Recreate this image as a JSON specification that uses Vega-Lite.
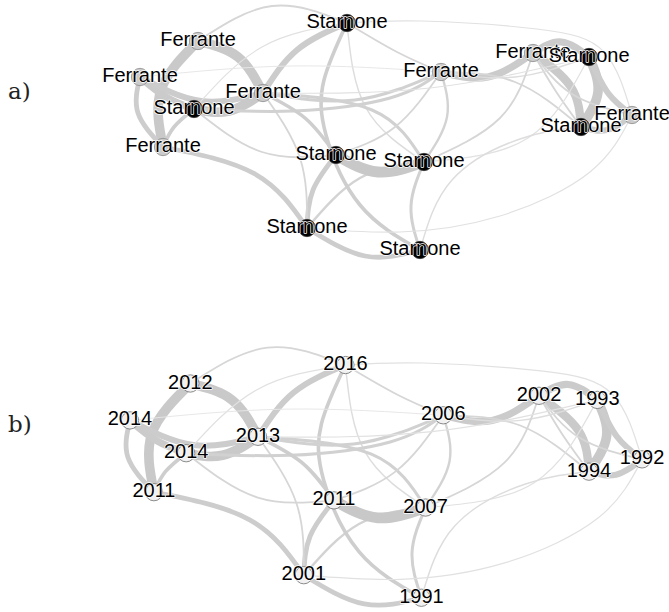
{
"$schema": "https://vega.github.io/schema/vega-lite/v6.json",
"padding": 0,
"bounds": "flush",
"spacing": 10,
"config": {"view": {"stroke": null}},
"resolve": {"scale": {"x": "independent", "y": "independent"}},
"datasets": {
"edges": [
{"e":1,"o":0,"x":198,"y":41,"w":8},{"e":1,"o":1,"x":238,"y":57,"w":8},{"e":1,"o":2,"x":263,"y":93,"w":8},
{"e":2,"o":0,"x":198,"y":41,"w":8},{"e":2,"o":1,"x":161,"y":90,"w":8},{"e":2,"o":2,"x":163,"y":147,"w":8},
{"e":3,"o":0,"x":140,"y":77,"w":6},{"e":3,"o":1,"x":166,"y":97,"w":6},{"e":3,"o":2,"x":194,"y":109,"w":6},
{"e":4,"o":0,"x":140,"y":77,"w":5},{"e":4,"o":1,"x":201,"y":101,"w":5},{"e":4,"o":2,"x":263,"y":93,"w":5},
{"e":5,"o":0,"x":194,"y":109,"w":8},{"e":5,"o":1,"x":229,"y":111,"w":8},{"e":5,"o":2,"x":263,"y":93,"w":8},
{"e":6,"o":0,"x":263,"y":93,"w":5},{"e":6,"o":1,"x":297,"y":50,"w":5},{"e":6,"o":2,"x":347,"y":23,"w":5},
{"e":7,"o":0,"x":198,"y":41,"w":1.5},{"e":7,"o":1,"x":272,"y":6,"w":1.5},{"e":7,"o":2,"x":347,"y":23,"w":1.5},
{"e":8,"o":0,"x":140,"y":77,"w":4},{"e":8,"o":1,"x":138,"y":113,"w":4},{"e":8,"o":2,"x":163,"y":147,"w":4},
{"e":9,"o":0,"x":194,"y":109,"w":3},{"e":9,"o":1,"x":174,"y":127,"w":3},{"e":9,"o":2,"x":163,"y":147,"w":3},
{"e":10,"o":0,"x":194,"y":109,"w":1.5},{"e":10,"o":1,"x":262,"y":152,"w":1.5},{"e":10,"o":2,"x":336,"y":155,"w":1.5},
{"e":11,"o":0,"x":163,"y":147,"w":4},{"e":11,"o":1,"x":255,"y":174,"w":4},{"e":11,"o":2,"x":307,"y":228,"w":4},
{"e":12,"o":0,"x":307,"y":228,"w":4},{"e":12,"o":1,"x":313,"y":190,"w":4},{"e":12,"o":2,"x":336,"y":155,"w":4},
{"e":13,"o":0,"x":263,"y":93,"w":1.5},{"e":13,"o":1,"x":300,"y":158,"w":1.5},{"e":13,"o":2,"x":307,"y":228,"w":1.5},
{"e":14,"o":0,"x":307,"y":228,"w":2},{"e":14,"o":1,"x":360,"y":178,"w":2},{"e":14,"o":2,"x":424,"y":162,"w":2},
{"e":15,"o":0,"x":307,"y":228,"w":4},{"e":15,"o":1,"x":365,"y":256,"w":4},{"e":15,"o":2,"x":420,"y":250,"w":4},
{"e":16,"o":0,"x":336,"y":155,"w":9},{"e":16,"o":1,"x":378,"y":172,"w":9},{"e":16,"o":2,"x":424,"y":162,"w":9},
{"e":17,"o":0,"x":347,"y":23,"w":3},{"e":17,"o":1,"x":324,"y":80,"w":3},{"e":17,"o":2,"x":326,"y":135,"w":3},{"e":17,"o":3,"x":360,"y":205,"w":3},{"e":17,"o":4,"x":420,"y":250,"w":3},
{"e":18,"o":0,"x":347,"y":23,"w":1.2},{"e":18,"o":1,"x":366,"y":108,"w":1.2},{"e":18,"o":2,"x":424,"y":162,"w":1.2},
{"e":19,"o":0,"x":347,"y":23,"w":1.5},{"e":19,"o":1,"x":397,"y":52,"w":1.5},{"e":19,"o":2,"x":441,"y":72,"w":1.5},
{"e":20,"o":0,"x":194,"y":109,"w":1},{"e":20,"o":1,"x":262,"y":47,"w":1},{"e":20,"o":2,"x":347,"y":23,"w":1},
{"e":21,"o":0,"x":140,"y":77,"w":0.8},{"e":21,"o":1,"x":290,"y":66,"w":0.8},{"e":21,"o":2,"x":441,"y":72,"w":0.8},
{"e":22,"o":0,"x":263,"y":93,"w":2.5},{"e":22,"o":1,"x":355,"y":100,"w":2.5},{"e":22,"o":2,"x":441,"y":72,"w":2.5},
{"e":23,"o":0,"x":194,"y":109,"w":2.5},{"e":23,"o":1,"x":294,"y":111,"w":2.5},{"e":23,"o":2,"x":390,"y":98,"w":2.5},{"e":23,"o":3,"x":441,"y":72,"w":2.5},
{"e":24,"o":0,"x":263,"y":93,"w":3},{"e":24,"o":1,"x":305,"y":118,"w":3},{"e":24,"o":2,"x":336,"y":155,"w":3},
{"e":25,"o":0,"x":263,"y":93,"w":2.5},{"e":25,"o":1,"x":372,"y":110,"w":2.5},{"e":25,"o":2,"x":424,"y":162,"w":2.5},
{"e":26,"o":0,"x":336,"y":155,"w":1.5},{"e":26,"o":1,"x":395,"y":127,"w":1.5},{"e":26,"o":2,"x":441,"y":72,"w":1.5},
{"e":27,"o":0,"x":441,"y":72,"w":2},{"e":27,"o":1,"x":447,"y":117,"w":2},{"e":27,"o":2,"x":424,"y":162,"w":2},
{"e":28,"o":0,"x":441,"y":72,"w":6},{"e":28,"o":1,"x":488,"y":77,"w":6},{"e":28,"o":2,"x":533,"y":53,"w":6},
{"e":29,"o":0,"x":533,"y":53,"w":6},{"e":29,"o":1,"x":561,"y":42,"w":6},{"e":29,"o":2,"x":589,"y":57,"w":6},
{"e":30,"o":0,"x":533,"y":53,"w":7},{"e":30,"o":1,"x":571,"y":87,"w":7},{"e":30,"o":2,"x":581,"y":127,"w":7},
{"e":31,"o":0,"x":589,"y":57,"w":8},{"e":31,"o":1,"x":598,"y":92,"w":8},{"e":31,"o":2,"x":581,"y":127,"w":8},
{"e":32,"o":0,"x":589,"y":57,"w":5},{"e":32,"o":1,"x":608,"y":93,"w":5},{"e":32,"o":2,"x":632,"y":115,"w":5},
{"e":33,"o":0,"x":581,"y":127,"w":5},{"e":33,"o":1,"x":607,"y":130,"w":5},{"e":33,"o":2,"x":632,"y":115,"w":5},
{"e":34,"o":0,"x":441,"y":72,"w":1.5},{"e":34,"o":1,"x":515,"y":82,"w":1.5},{"e":34,"o":2,"x":581,"y":127,"w":1.5},
{"e":35,"o":0,"x":533,"y":53,"w":1.5},{"e":35,"o":1,"x":555,"y":90,"w":1.5},{"e":35,"o":2,"x":581,"y":127,"w":1.5},
{"e":36,"o":0,"x":533,"y":53,"w":1.5},{"e":36,"o":1,"x":572,"y":94,"w":1.5},{"e":36,"o":2,"x":632,"y":115,"w":1.5},
{"e":37,"o":0,"x":441,"y":72,"w":1.2},{"e":37,"o":1,"x":515,"y":77,"w":1.2},{"e":37,"o":2,"x":589,"y":57,"w":1.2},
{"e":38,"o":0,"x":424,"y":162,"w":1.5},{"e":38,"o":1,"x":500,"y":118,"w":1.5},{"e":38,"o":2,"x":533,"y":53,"w":1.5},
{"e":39,"o":0,"x":424,"y":162,"w":1},{"e":39,"o":1,"x":528,"y":138,"w":1},{"e":39,"o":2,"x":589,"y":57,"w":1},
{"e":40,"o":0,"x":424,"y":162,"w":2.5},{"e":40,"o":1,"x":411,"y":206,"w":2.5},{"e":40,"o":2,"x":420,"y":250,"w":2.5},
{"e":41,"o":0,"x":420,"y":250,"w":1.2},{"e":41,"o":1,"x":452,"y":180,"w":1.2},{"e":41,"o":2,"x":520,"y":139,"w":1.2},{"e":41,"o":3,"x":581,"y":127,"w":1.2},
{"e":42,"o":0,"x":307,"y":228,"w":1},{"e":42,"o":1,"x":400,"y":232,"w":1},{"e":42,"o":2,"x":500,"y":216,"w":1},{"e":42,"o":3,"x":590,"y":172,"w":1},{"e":42,"o":4,"x":632,"y":115,"w":1},
{"e":43,"o":0,"x":347,"y":23,"w":1},{"e":43,"o":1,"x":422,"y":21,"w":1},{"e":43,"o":2,"x":537,"y":29,"w":1},{"e":43,"o":3,"x":604,"y":52,"w":1},{"e":43,"o":4,"x":632,"y":115,"w":1},
{"e":44,"o":0,"x":263,"y":93,"w":1},{"e":44,"o":1,"x":430,"y":88,"w":1},{"e":44,"o":2,"x":589,"y":57,"w":1}
],
"nodes": [
{"id":"S_top","author":"Starnone","year":"2016","x":347,"y":23},
{"id":"F_up","author":"Ferrante","year":"2012","x":198,"y":41},
{"id":"F_left","author":"Ferrante","year":"2014","x":140,"y":77},
{"id":"S_left","author":"Starnone","year":"2014","x":194,"y":109},
{"id":"F_mid","author":"Ferrante","year":"2013","x":263,"y":93},
{"id":"F_low","author":"Ferrante","year":"2011","x":163,"y":147},
{"id":"S_c","author":"Starnone","year":"2011","x":336,"y":155},
{"id":"S_low","author":"Starnone","year":"2001","x":307,"y":228},
{"id":"F_r","author":"Ferrante","year":"2006","x":441,"y":72},
{"id":"F_cl","author":"Ferrante","year":"2002","x":533,"y":53},
{"id":"S_r","author":"Starnone","year":"1994","x":581,"y":127},
{"id":"S_m","author":"Starnone","year":"2007","x":424,"y":162},
{"id":"S_b","author":"Starnone","year":"1991","x":420,"y":250},
{"id":"S_cl","author":"Starnone","year":"1993","x":589,"y":57},
{"id":"F_fr","author":"Ferrante","year":"1992","x":632,"y":115}
]
},
"vconcat": [
{
"width": 669, "height": 300,
"encoding": {
"x": {"field": "x", "type": "quantitative", "scale": {"domain": [0, 669], "nice": false, "zero": false}, "axis": null},
"y": {"field": "y", "type": "quantitative", "scale": {"domain": [0, 300], "reverse": true, "nice": false, "zero": false}, "axis": null}
},
"layer": [
{"data": {"name": "edges"}, "mark": {"type": "line", "interpolate": "natural", "strokeCap": "round"},
 "encoding": {"order": {"field": "o", "type": "quantitative"}, "detail": {"field": "e", "type": "nominal"},
  "strokeWidth": {"field": "w", "type": "quantitative", "scale": {"domain": [0, 10], "range": [0, 12]}, "legend": null},
  "color": {"field": "w", "type": "quantitative", "scale": {"domain": [0.8, 1.5, 3, 9], "range": ["#e6e6e6", "#d6d6d6", "#cecece", "#c8c8c8"], "clamp": true}, "legend": null}}},
{"data": {"name": "nodes"}, "transform": [{"filter": "datum.author == 'Ferrante'"}],
 "mark": {"type": "point", "shape": "circle", "filled": true, "size": 300, "opacity": 1, "fill": "#cbcbcb", "stroke": "#8a8a8a", "strokeWidth": 0.8}},
{"data": {"name": "nodes"}, "transform": [{"filter": "datum.author == 'Starnone'"}],
 "mark": {"type": "point", "shape": "circle", "filled": true, "size": 300, "opacity": 1, "fill": "#000000", "stroke": "#333333", "strokeWidth": 0.8}},
{"data": {"name": "nodes"}, "transform": [{"filter": "datum.id != 'S_cl' && datum.id != 'F_fr'"}],
 "mark": {"type": "text", "font": "Liberation Sans", "fontSize": 20, "dy": 5, "baseline": "alphabetic", "align": "center", "fill": "white", "stroke": "white", "strokeWidth": 1.4, "strokeJoin": "round"},
 "encoding": {"text": {"field": "author", "type": "nominal"}}},
{"data": {"name": "nodes"}, "transform": [{"filter": "datum.id != 'S_cl' && datum.id != 'F_fr'"}],
 "mark": {"type": "text", "font": "Liberation Sans", "fontSize": 20, "dy": 5, "baseline": "alphabetic", "align": "center", "fill": "#000000"},
 "encoding": {"text": {"field": "author", "type": "nominal"}}},
{"data": {"name": "nodes"}, "transform": [{"filter": "datum.id == 'S_cl' || datum.id == 'F_fr'"}],
 "mark": {"type": "text", "font": "Liberation Sans", "fontSize": 20, "dy": 5, "baseline": "alphabetic", "align": "center", "fill": "white", "stroke": "white", "strokeWidth": 1.4, "strokeJoin": "round"},
 "encoding": {"text": {"field": "author", "type": "nominal"}}},
{"data": {"name": "nodes"}, "transform": [{"filter": "datum.id == 'S_cl' || datum.id == 'F_fr'"}],
 "mark": {"type": "text", "font": "Liberation Sans", "fontSize": 20, "dy": 5, "baseline": "alphabetic", "align": "center", "fill": "#000000"},
 "encoding": {"text": {"field": "author", "type": "nominal"}}},
{"data": {"values": [{"label": "a)", "x": 8, "y": 99}]},
 "mark": {"type": "text", "font": "DejaVu Serif", "fontSize": 23, "align": "left", "baseline": "alphabetic", "fill": "#222222"},
 "encoding": {"text": {"field": "label", "type": "nominal"}}}
]
},
{
"width": 669, "height": 302,
"encoding": {
"x": {"field": "x", "type": "quantitative", "scale": {"domain": [15.1, 657.9], "nice": false, "zero": false}, "axis": null},
"y": {"field": "y", "type": "quantitative", "scale": {"domain": [-30.7, 263.9], "reverse": true, "nice": false, "zero": false}, "axis": null}
},
"layer": [
{"data": {"name": "edges"}, "mark": {"type": "line", "interpolate": "natural", "strokeCap": "round"},
 "encoding": {"order": {"field": "o", "type": "quantitative"}, "detail": {"field": "e", "type": "nominal"},
  "strokeWidth": {"field": "w", "type": "quantitative", "scale": {"domain": [0, 10], "range": [0, 12]}, "legend": null},
  "color": {"field": "w", "type": "quantitative", "scale": {"domain": [0.8, 1.5, 3, 9], "range": ["#e6e6e6", "#d6d6d6", "#cecece", "#c8c8c8"], "clamp": true}, "legend": null}}},
{"data": {"name": "nodes"},
 "mark": {"type": "point", "shape": "circle", "filled": true, "size": 300, "opacity": 1, "fill": "#f1f1f1", "stroke": "#6f6f6f", "strokeWidth": 0.8}},
{"data": {"name": "nodes"},
 "mark": {"type": "text", "font": "Liberation Sans", "fontSize": 20, "dy": 5, "baseline": "alphabetic", "align": "center", "fill": "white", "stroke": "white", "strokeWidth": 1.4, "strokeJoin": "round"},
 "encoding": {"text": {"field": "year", "type": "nominal"}}},
{"data": {"name": "nodes"},
 "mark": {"type": "text", "font": "Liberation Sans", "fontSize": 20, "dy": 5, "baseline": "alphabetic", "align": "center", "fill": "#000000"},
 "encoding": {"text": {"field": "year", "type": "nominal"}}},
{"data": {"values": [{"label": "b)", "x": 22.8, "y": 88.3}]},
 "mark": {"type": "text", "font": "DejaVu Serif", "fontSize": 23, "align": "left", "baseline": "alphabetic", "fill": "#222222"},
 "encoding": {"text": {"field": "label", "type": "nominal"}}}
]
}
]
}
